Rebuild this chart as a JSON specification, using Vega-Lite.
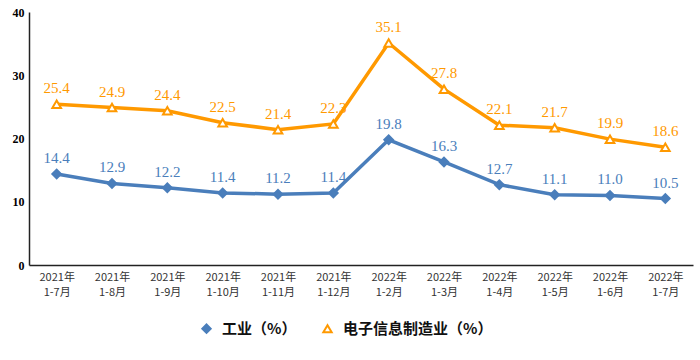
{
  "$schema": "https://vega.github.io/schema/vega-lite/v6.json",
  "width": 664,
  "height": 253,
  "autosize": "none",
  "padding": {"left": 29, "top": 12, "right": 7, "bottom": 95},
  "background": "white",
  "data": {
    "values": [
      {"period": "2021年|1-7月", "series": "工业（%）", "value": 14.4},
      {"period": "2021年|1-8月", "series": "工业（%）", "value": 12.9},
      {"period": "2021年|1-9月", "series": "工业（%）", "value": 12.2},
      {"period": "2021年|1-10月", "series": "工业（%）", "value": 11.4},
      {"period": "2021年|1-11月", "series": "工业（%）", "value": 11.2},
      {"period": "2021年|1-12月", "series": "工业（%）", "value": 11.4},
      {"period": "2022年|1-2月", "series": "工业（%）", "value": 19.8},
      {"period": "2022年|1-3月", "series": "工业（%）", "value": 16.3},
      {"period": "2022年|1-4月", "series": "工业（%）", "value": 12.7},
      {"period": "2022年|1-5月", "series": "工业（%）", "value": 11.1},
      {"period": "2022年|1-6月", "series": "工业（%）", "value": 11.0},
      {"period": "2022年|1-7月", "series": "工业（%）", "value": 10.5},
      {"period": "2021年|1-7月", "series": "电子信息制造业（%）", "value": 25.4},
      {"period": "2021年|1-8月", "series": "电子信息制造业（%）", "value": 24.9},
      {"period": "2021年|1-9月", "series": "电子信息制造业（%）", "value": 24.4},
      {"period": "2021年|1-10月", "series": "电子信息制造业（%）", "value": 22.5},
      {"period": "2021年|1-11月", "series": "电子信息制造业（%）", "value": 21.4},
      {"period": "2021年|1-12月", "series": "电子信息制造业（%）", "value": 22.3},
      {"period": "2022年|1-2月", "series": "电子信息制造业（%）", "value": 35.1},
      {"period": "2022年|1-3月", "series": "电子信息制造业（%）", "value": 27.8},
      {"period": "2022年|1-4月", "series": "电子信息制造业（%）", "value": 22.1},
      {"period": "2022年|1-5月", "series": "电子信息制造业（%）", "value": 21.7},
      {"period": "2022年|1-6月", "series": "电子信息制造业（%）", "value": 19.9},
      {"period": "2022年|1-7月", "series": "电子信息制造业（%）", "value": 18.6}
    ]
  },
  "encoding": {
    "x": {
      "field": "period",
      "type": "nominal",
      "sort": null,
      "title": null,
      "scale": {"paddingInner": 0, "paddingOuter": 0},
      "axis": {
        "labelExpr": "split(datum.label, '|')",
        "labelAngle": 0,
        "labelFont": "Noto Sans CJK SC",
        "labelFontSize": 11,
        "labelColor": "#333333",
        "labelLineHeight": 15,
        "labelPadding": 6,
        "ticks": false,
        "grid": false,
        "domainColor": "#222222",
        "domainWidth": 1.5
      }
    },
    "y": {
      "field": "value",
      "type": "quantitative",
      "title": null,
      "scale": {"domain": [0, 40], "nice": false},
      "axis": {
        "values": [0, 10, 20, 30, 40],
        "labelFont": "Liberation Serif",
        "labelFontWeight": "bold",
        "labelFontSize": 12,
        "labelColor": "#000000",
        "labelPadding": 5,
        "ticks": false,
        "grid": false,
        "domainColor": "#222222",
        "domainWidth": 1.5
      }
    }
  },
  "layer": [
    {
      "mark": {"type": "line", "strokeWidth": 3.5},
      "encoding": {
        "stroke": {
          "field": "series",
          "type": "nominal",
          "scale": {"domain": ["工业（%）", "电子信息制造业（%）"], "range": ["#4A7EBB", "#FF9900"]},
          "legend": {
            "title": null,
            "orient": "none",
            "direction": "horizontal",
            "legendX": 170,
            "legendY": 309,
            "labelFont": "Noto Sans CJK SC",
            "labelFontSize": 15,
            "labelFontWeight": "bold",
            "labelColor": "#111111",
            "labelLimit": 300,
            "labelOffset": 8,
            "columnPadding": 22,
            "symbolSize": 70,
            "symbolStrokeWidth": 2
          }
        }
      }
    },
    {
      "mark": {"type": "point", "size": 75, "strokeWidth": 2, "opacity": 1},
      "encoding": {
        "stroke": {"field": "series", "type": "nominal"},
        "shape": {
          "field": "series",
          "type": "nominal",
          "scale": {"domain": ["工业（%）", "电子信息制造业（%）"], "range": ["diamond", "triangle-up"]}
        },
        "fill": {
          "field": "series",
          "type": "nominal",
          "scale": {"domain": ["工业（%）", "电子信息制造业（%）"], "range": ["#4A7EBB", "#FFFFFF"]}
        }
      }
    },
    {
      "mark": {"type": "text", "font": "Liberation Serif", "fontSize": 15, "baseline": "alphabetic", "dy": -11},
      "encoding": {
        "text": {"field": "value", "type": "quantitative", "format": ".1f"},
        "color": {
          "condition": {"test": "datum.series === '工业（%）'", "value": "#4A7EBB"},
          "value": "#FF9900"
        }
      }
    }
  ],
  "config": {"view": {"stroke": null}}
}
